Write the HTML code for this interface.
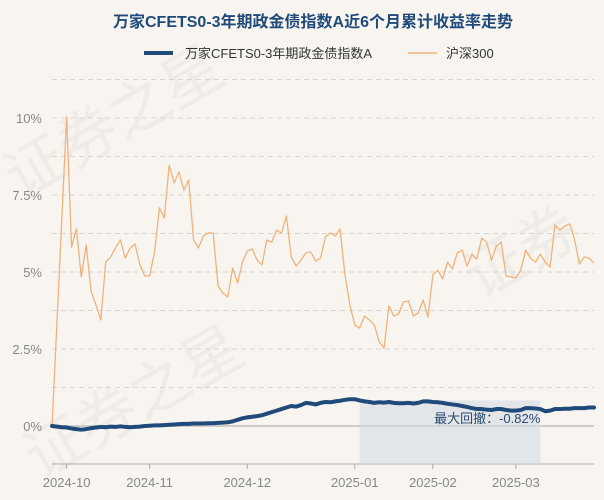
<!DOCTYPE html>
<html><head><meta charset="utf-8">
<style>
html,body{margin:0;padding:0;background:#f8f5f0;}
body{width:604px;height:500px;overflow:hidden;font-family:"Liberation Sans","Noto Sans CJK SC",sans-serif;}
svg{display:block}
</style></head>
<body>
<svg id="chart" width="604" height="500" xmlns="http://www.w3.org/2000/svg" font-family="Liberation Sans, Noto Sans CJK SC, sans-serif">
  <rect width="604" height="500" fill="#f8f5f0"/>
  <g fill="#e9e5df" font-size="60" opacity="0.6">
    <text x="20" y="200" transform="rotate(-30 20 200)">证券之星</text>
    <text x="40" y="480" transform="rotate(-30 40 480)">证券之星</text>
    <text x="480" y="300" transform="rotate(-30 480 300)">证券</text>
  </g>
  <text x="313" y="27" text-anchor="middle" font-size="16" font-weight="bold" fill="#1f4a7a">万家CFETS0-3年期政金债指数A近6个月累计收益率走势</text>
  <g>
    <g>
      <line x1="144" y1="53" x2="173" y2="53" stroke="#1f4a7a" stroke-width="4"/>
      <text x="185" y="58" font-size="13" fill="#333">万家CFETS0-3年期政金债指数A</text>
    </g>
    <g>
      <line x1="408" y1="53" x2="437" y2="53" stroke="#f0b27a" stroke-width="1.5"/>
      <text x="446" y="58" font-size="13" fill="#333">沪深300</text>
    </g>
  </g>
  <g id="grid"></g>
  <g id="yaxis"></g>
  <g id="xaxis"></g>
  <g id="series"></g>
</svg>
<script>
const hs300 = [0,3.3,6.7,10.03,5.81,6.40,4.84,5.88,4.38,3.93,3.44,5.32,5.49,5.78,6.04,5.45,5.78,5.91,5.23,4.87,4.87,5.65,7.08,6.75,8.47,7.89,8.25,7.66,7.99,6.04,5.78,6.17,6.27,6.27,4.55,4.32,4.19,5.13,4.64,5.32,5.68,5.75,5.39,5.23,6.04,5.97,6.36,6.27,6.82,5.49,5.19,5.39,5.62,5.65,5.36,5.45,6.14,
6.27,6.17,6.40,4.90,3.93,3.28,3.18,3.57,3.44,3.28,2.73,2.53,3.90,3.57,3.64,4.03,4.06,3.57,3.67,4.09,3.54,4.90,5.06,4.77,5.32,5.10,5.62,5.71,5.19,5.58,5.42,6.10,5.97,5.39,5.84,5.97,4.87,4.84,4.81,5.06,5.71,5.45,5.32,5.58,5.32,5.16,6.53,6.36,6.49,6.56,6.07,5.26,5.49,5.45,5.29];
const fund = [0,-0.02,-0.04,-0.05,-0.08,-0.1,-0.12,-0.1,-0.07,-0.05,-0.03,-0.04,-0.02,
-0.03,-0.01,-0.03,-0.04,-0.03,-0.02,0,0.01,0.02,0.02,0.03,
0.04,0.05,0.06,0.07,0.07,0.08,0.08,0.08,0.09,0.09,0.1,
0.11,0.12,0.15,0.2,0.25,0.28,0.3,0.32,0.35,0.4,0.45,
0.5,0.55,0.6,0.65,0.63,0.68,0.75,0.73,0.7,0.75,0.78,
0.77,0.8,0.82,0.85,0.87,0.87,0.83,0.8,0.78,0.75,0.77,
0.76,0.78,0.75,0.74,0.74,0.75,0.73,0.75,0.8,0.8,0.78,
0.77,0.75,0.72,0.7,0.68,0.65,0.62,0.58,0.55,0.55,0.53,
0.52,0.55,0.55,0.52,0.5,0.5,0.52,0.58,0.58,0.57,0.55,
0.48,0.5,0.55,0.55,0.56,0.56,0.58,0.58,0.58,0.6,0.6];
const xTickLabels = ["2024-10","2024-11","2024-12","2025-01","2025-02","2025-03"];
const xTickIndex = [3,20,40,62,78,95];
const yTickValues = [0,2.5,5,7.5,10];
const yTickLabels = ["0%","2.5%","5%","7.5%","10%"];
const gridValues = [1.25,2.5,3.75,5,6.25,7.5,8.75,10,11.25];
const drawdownStart = 63, drawdownEnd = 100;
const drawdownLabel = "最大回撤：-0.82%";

const NS="http://www.w3.org/2000/svg";
const X0=52, X1=594, Y0=426, PX=30.8, AXY=464;
const n=hs300.length;
const xs=i=>X0+(X1-X0)*i/(n-1);
const ys=v=>Y0-v*PX;
function mk(tag,attrs,parent){const e=document.createElementNS(NS,tag);for(const k in attrs)e.setAttribute(k,attrs[k]);parent.appendChild(e);return e;}
const grid=document.getElementById('grid'),ya=document.getElementById('yaxis'),xa=document.getElementById('xaxis'),se=document.getElementById('series');
gridValues.forEach(v=>{const l=mk('line',{x1:X0,x2:X1,y1:ys(v),y2:ys(v),stroke:'#d8d5d0','stroke-dasharray':'5,4','stroke-width':1},grid);

});
const z=mk('line',{x1:X0,x2:X1,y1:ys(0),y2:ys(0),stroke:'#d0cdc8','stroke-width':2},grid);


yTickValues.forEach((v,i)=>{const t=mk('text',{x:42,y:ys(v)+5,'text-anchor':'end','font-size':13,fill:'#888'},ya);t.textContent=yTickLabels[i];

});
const sh=mk('rect',{x:xs(drawdownStart),y:ys(fund[drawdownStart]),width:xs(drawdownEnd)-xs(drawdownStart),height:AXY-ys(fund[drawdownStart]),fill:'#d5dce3',opacity:0.6},se);


const ax=mk('line',{x1:X0,x2:X1,y1:AXY,y2:AXY,stroke:'#aaa','stroke-width':1},xa);


xTickIndex.forEach((idx,i)=>{mk('line',{x1:xs(idx),x2:xs(idx),y1:AXY,y2:AXY+5,stroke:'#aaa'},xa);
const t=mk('text',{x:xs(idx),y:487,'text-anchor':'middle','font-size':13,fill:'#888'},xa);t.textContent=xTickLabels[i];

});
const p1=mk('polyline',{points:hs300.map((v,i)=>xs(i)+','+ys(v)).join(' '),fill:'none',stroke:'#f0b27a','stroke-width':1.3,'stroke-linejoin':'round'},se);


const p2=mk('polyline',{points:fund.map((v,i)=>xs(i)+','+ys(v)).join(' '),fill:'none',stroke:'#1f4a7a','stroke-width':4,'stroke-linejoin':'round','stroke-linecap':'round'},se);


const dl=mk('text',{x:xs(drawdownEnd),y:423,'text-anchor':'end','font-size':13,fill:'#2a4a6e'},se);dl.textContent=drawdownLabel;


</script>
</body></html>
